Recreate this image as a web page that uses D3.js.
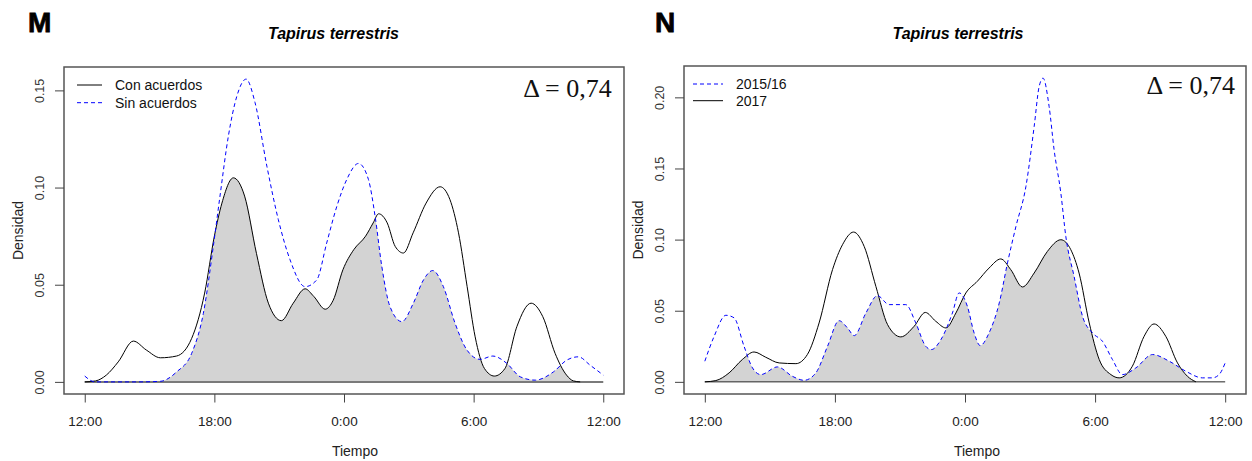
<!DOCTYPE html>
<html>
<head>
<meta charset="utf-8">
<script src="https://cdn.jsdelivr.net/npm/d3@7"></script>
<style>
  body { margin: 0; background: #fff; }
  svg { display: block; }
</style>
</head>
<body>
<svg id="chart" width="1252" height="461"></svg>
<script>
// hours since 12:00 (0 = 12:00, 12 = 0:00, 24 = 12:00 next day)
const tickHours = [0, 6, 12, 18, 24];
const tickLabels = ['12:00', '18:00', '0:00', '6:00', '12:00'];

// panel M
const yTicksM = [0, 0.05, 0.10, 0.15];
const hoursConM = [0, 0.5, 1.0, 1.55, 2.25, 2.85, 3.5, 4.25, 4.95, 5.55, 6.0, 6.35, 6.88, 7.4, 7.95, 8.5, 9.1, 9.65, 10.2, 10.6,
    11.13, 11.5, 11.95, 12.45, 13.0, 13.35, 13.6, 14.0, 14.37, 14.75, 15.2, 15.8, 16.45, 16.9, 17.3, 17.7, 18.07, 18.5, 18.96, 19.45,
    20.0, 20.66, 21.2, 21.77, 22.3, 22.62, 22.93];
const densConM = [0, 0.0005, 0.0035, 0.0103, 0.021, 0.0164, 0.0124, 0.0133, 0.0224, 0.0457, 0.075, 0.092, 0.105, 0.0956, 0.066, 0.0405, 0.0315, 0.0405, 0.0479, 0.044,
    0.0374, 0.042, 0.0577, 0.068, 0.075, 0.0818, 0.0865, 0.0818, 0.0697, 0.0663, 0.0767, 0.092, 0.1004, 0.0939, 0.0767, 0.049, 0.0232, 0.0069, 0.003, 0.0069,
    0.0284, 0.0405, 0.0336, 0.0147, 0.0035, 0.0005, 0];
const hoursSinM = [0, 0.48, 1.5, 2.5, 3.5, 4.26, 4.95, 5.49, 5.95, 6.26, 6.65, 7.04, 7.47, 7.88, 8.43, 8.96, 9.5, 10.2, 10.74, 11.2,
    11.67, 12.13, 12.67, 13.13, 13.44, 13.75, 14.13, 14.68, 15.21, 15.68, 16.11, 16.6, 17.14, 17.69, 18.3, 18.89, 19.54, 20.16, 20.85, 21.7,
    22.31, 22.85, 23.39, 24];
const densSinM = [0.003, 0, 0, 0, 0.0003, 0.0052, 0.0147, 0.0353, 0.0697, 0.0956, 0.1266, 0.147, 0.1558, 0.1438, 0.111, 0.0835, 0.0629, 0.049, 0.0525, 0.0715,
    0.0904, 0.1042, 0.1124, 0.1042, 0.0852, 0.0594, 0.0387, 0.031, 0.0405, 0.0525, 0.0573, 0.049, 0.0302, 0.0164, 0.0116, 0.0133, 0.0095, 0.0026, 0.0009, 0.0052,
    0.0112, 0.0129, 0.0086, 0.0035];

// panel N
const yTicksN = [0, 0.05, 0.10, 0.15, 0.20];
const hours2015 = [0, 0.43, 0.97, 1.35, 1.81, 2.2, 2.58, 3.35, 4.04, 4.58, 5.12, 5.66, 6.19, 6.58, 6.89, 7.43, 7.96, 8.5, 9.27, 9.73,
    10.19, 10.45, 10.89, 11.42, 11.73, 12.11, 12.42, 12.7, 13.11, 13.58, 13.96, 14.35, 14.81, 15.19, 15.42, 15.6, 15.88, 16.11, 16.42, 16.65,
    17.03, 17.42, 17.88, 18.34, 18.8, 19.26, 19.88, 20.65, 21.42, 22.19, 22.95, 23.41, 23.72, 24];
const dens2015 = [0.0145, 0.032, 0.0468, 0.045, 0.025, 0.0098, 0.0051, 0.0105, 0.0039, 0.0011, 0.0063, 0.025, 0.043, 0.0379, 0.0325, 0.0484, 0.0606, 0.0543, 0.0543, 0.0414,
    0.025, 0.0227, 0.0297, 0.0484, 0.0625, 0.0531, 0.0344, 0.0255, 0.0344, 0.0555, 0.0836, 0.1093, 0.1374, 0.1795, 0.2076, 0.2135, 0.1935, 0.1631, 0.1327, 0.1022,
    0.0742, 0.0461, 0.0344, 0.0285, 0.0157, 0.0051, 0.0098, 0.0192, 0.0145, 0.0074, 0.0028, 0.0028, 0.0051, 0.0133];
const hours2017 = [0, 0.51, 1.12, 1.73, 2.27, 2.81, 3.43, 4.2, 4.73, 5.27, 5.89, 6.35, 6.86, 7.35, 7.89, 8.43, 9.04, 9.65, 10.17, 10.65,
    11.12, 11.58, 12.04, 12.57, 13.11, 13.65, 14.11, 14.65, 15.19, 15.8, 16.42, 16.88, 17.26, 17.73, 18.19, 18.73, 19.11, 19.72, 20.26, 20.72,
    21.26, 21.8, 22.26, 22.65];
const dens2017 = [0, 0.0009, 0.0063, 0.0157, 0.021, 0.0173, 0.0133, 0.0128, 0.0192, 0.0414, 0.0789, 0.0964, 0.1053, 0.0952, 0.0671, 0.0402, 0.0316, 0.039, 0.0488, 0.0426,
    0.0379, 0.0484, 0.0625, 0.0707, 0.08, 0.0864, 0.0789, 0.0667, 0.0765, 0.0917, 0.0999, 0.0929, 0.0765, 0.0414, 0.0157, 0.0051, 0.0028, 0.011, 0.032, 0.0407,
    0.032, 0.0133, 0.0039, 0];

const SANS = '"Liberation Sans", Arial, sans-serif';
const SERIF = '"Liberation Serif", "Times New Roman", serif';

window.Vis = window.Vis || {};

Vis.init = function() {
    Vis.svg = d3.select('#chart');
    Vis.setup.initPanels();
    Vis.panels.forEach(Vis.core.drawPanel);
};

Vis.setup = {
    initPanels: function() {
        Vis.panels = [{
            letter: 'M', left: 64, right: 624, top: 67, bottom: 394,
            titleX: 333.5, xLabelX: 355, letterX: 28, deltaX: 611.7, deltaY: 96.7,
            yTicks: yTicksM,
            baseColor: '#7a7a7a', baseWidth: 2,
            legend: { x0: 77, x1: 102, tx: 115, y: 85, dy: 17.7 },
            series: [
                { name: 'Con acuerdos', hours: hoursConM, dens: densConM, dashed: false },
                { name: 'Sin acuerdos', hours: hoursSinM, dens: densSinM, dashed: true }
            ]
        }, {
            letter: 'N', left: 684, right: 1246, top: 66, bottom: 394,
            titleX: 958, xLabelX: 977, letterX: 655, deltaX: 1235, deltaY: 94.3,
            yTicks: yTicksN,
            baseColor: '#222', baseWidth: 1,
            legend: { x0: 693, x1: 723, tx: 736, y: 84, dy: 16.7 },
            series: [
                { name: '2015/16', hours: hours2015, dens: dens2015, dashed: true },
                { name: '2017', hours: hours2017, dens: dens2017, dashed: false }
            ]
        }];
    }
};

Vis.core = {
    drawPanel: function(p, idx) {
        let g = Vis.svg.append('g');

        // R style 4% padding on both axes
        let ymax = d3.max(p.series, s => d3.max(s.dens));
        let x = d3.scaleLinear().domain([-0.96, 24.96]).range([p.left, p.right]);
        let y = d3.scaleLinear().domain([-0.04 * ymax, 1.04 * ymax]).range([p.bottom, p.top]);

        let pts = s => s.hours.map((h, i) => [h, s.dens[i]]);

        let area = d3.area()
            .x(d => x(d[0])).y0(y(0)).y1(d => y(d[1]))
            .curve(d3.curveMonotoneX);
        let line = d3.line()
            .x(d => x(d[0])).y(d => y(d[1]))
            .curve(d3.curveMonotoneX);

        // overlap = area under one curve clipped by area under the other
        let clipId = 'clip' + idx;
        g.append('clipPath').attr('id', clipId)
            .append('path').attr('d', area(pts(p.series[0])));
        g.append('path')
            .attr('d', area(pts(p.series[1])))
            .attr('fill', '#d3d3d3')
            .attr('clip-path', 'url(#' + clipId + ')');

        // baseline
        g.append('line')
            .attr('x1', x(0)).attr('x2', x(24))
            .attr('y1', y(0)).attr('y2', y(0))
            .attr('stroke', p.baseColor).attr('stroke-width', p.baseWidth);

        // solid first, dashed on top
        let order = p.series.slice().sort((a, b) => a.dashed - b.dashed);
        order.forEach(function(s) {
            g.append('path')
                .attr('d', line(pts(s)))
                .attr('fill', 'none')
                .attr('stroke', s.dashed ? '#0000ff' : '#000')
                .attr('stroke-width', 1)
                .attr('stroke-dasharray', s.dashed ? '4,3' : null);
        });

        // box
        g.append('rect')
            .attr('x', p.left).attr('y', p.top)
            .attr('width', p.right - p.left).attr('height', p.bottom - p.top)
            .attr('fill', 'none').attr('stroke', '#555').attr('stroke-width', 1.5);

        // x axis
        let xAxis = g.append('g')
            .attr('transform', 'translate(0,' + p.bottom + ')')
            .call(d3.axisBottom(x).tickValues(tickHours)
                .tickFormat((d, i) => tickLabels[i]).tickSize(8.5).tickSizeOuter(0));
        xAxis.select('.domain').remove();
        xAxis.selectAll('.tick line').attr('stroke', '#444');
        xAxis.selectAll('.tick text')
            .attr('y', 32).attr('dy', null)
            .attr('font-family', SANS).attr('font-size', 13.5).attr('fill', '#222');

        // y axis
        let yAxis = g.append('g')
            .attr('transform', 'translate(' + p.left + ',0)')
            .call(d3.axisLeft(y).tickValues(p.yTicks)
                .tickFormat(d3.format('.2f')).tickSize(9).tickSizeOuter(0));
        yAxis.select('.domain').remove();
        yAxis.selectAll('.tick line').attr('stroke', '#444');
        yAxis.selectAll('.tick text')
            .attr('x', 0).attr('y', -20).attr('dy', null)
            .attr('transform', 'rotate(-90)')
            .attr('text-anchor', 'middle')
            .attr('font-family', SANS).attr('font-size', 12.5).attr('fill', '#333');

        // axis titles
        g.append('text')
            .attr('transform', 'translate(' + (p.left - 41) + ',' + ((p.top + p.bottom) / 2) + ') rotate(-90)')
            .attr('text-anchor', 'middle')
            .attr('font-family', SANS).attr('font-size', 14).attr('fill', '#222')
            .text('Densidad');
        g.append('text')
            .attr('x', p.xLabelX).attr('y', 456)
            .attr('text-anchor', 'middle')
            .attr('font-family', SANS).attr('font-size', 14).attr('fill', '#222')
            .text('Tiempo');

        // title and panel letter
        g.append('text')
            .attr('x', p.titleX).attr('y', 39)
            .attr('text-anchor', 'middle')
            .attr('font-family', SANS).attr('font-size', 16)
            .attr('font-weight', 'bold').attr('font-style', 'italic')
            .text('Tapirus terrestris');
        g.append('text')
            .attr('x', p.letterX).attr('y', 32)
            .attr('font-family', SANS).attr('font-size', 28).attr('font-weight', 'bold')
            .attr('stroke', '#000').attr('stroke-width', 0.8)
            .text(p.letter);

        // overlap coefficient
        g.append('text')
            .attr('x', p.deltaX).attr('y', p.deltaY)
            .attr('text-anchor', 'end')
            .attr('font-family', SERIF).attr('font-size', 26).attr('fill', '#111')
            .text('\u0394 = 0,74');

        // legend
        p.series.forEach(function(s, i) {
            let ly = p.legend.y + i * p.legend.dy;
            g.append('line')
                .attr('x1', p.legend.x0).attr('x2', p.legend.x1)
                .attr('y1', ly).attr('y2', ly)
                .attr('stroke', s.dashed ? '#0000ff' : '#000')
                .attr('stroke-width', 1)
                .attr('stroke-dasharray', s.dashed ? '4,3' : null);
            g.append('text')
                .attr('x', p.legend.tx).attr('y', ly + 5)
                .attr('font-family', SANS).attr('font-size', 14).attr('fill', '#111')
                .text(s.name);
        });
    }
};

document.addEventListener('DOMContentLoaded', Vis.init);
</script>
</body>
</html>
